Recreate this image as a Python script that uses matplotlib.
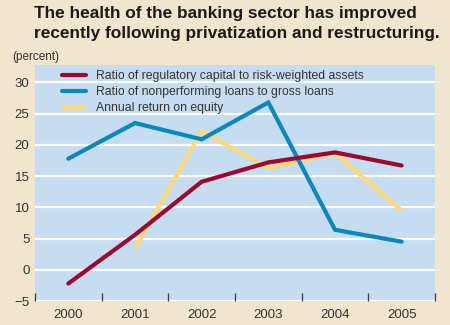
import matplotlib
matplotlib.use("Agg")
import matplotlib.pyplot as plt
import numpy as np

years = ["2000", "2001", "2002", "2003", "2004", "2005"]
capital_ratio = [-2.2, 5.6, 14.1, 17.2, 18.8, 16.7]
npl_ratio = [17.8, 23.5, 20.9, 26.8, 6.4, 4.5]
roe_years = ["2001", "2002", "2003", "2004", "2005"]
roe = [3.4, 22.2, 16.3, 18.7, 9.5]
yticks = [-5, 0, 5, 10, 15, 20, 25, 30]

labels = [
    "Ratio of regulatory capital to risk-weighted assets",
    "Ratio of nonperforming loans to gross loans",
    "Annual return on equity",
]
colors = ["#9B0A2E", "#0A88BE", "#FFD878"]

bg = "#F0E6CD"
plot_bg = "#C6DDF1"
text_col = "#333333"

plt.rcParams["font.family"] = ["Liberation Sans", "DejaVu Sans"]

fig = plt.figure(figsize=(4.5, 3.25), dpi=100, facecolor=bg)
ax = fig.add_axes([35 / 450, 24 / 325, 400 / 450, 236 / 325])
ax.set_facecolor(plot_bg)

x = np.arange(len(years))
xr = np.array([years.index(y) for y in roe_years])

for yv in yticks:
    ax.axhline(yv, color="white", lw=1.6, zorder=1)

ax.plot(x, capital_ratio, color=colors[0], lw=3.0, solid_capstyle="round",
        solid_joinstyle="miter", zorder=4, label=labels[0])
ax.plot(x, npl_ratio, color=colors[1], lw=3.0, solid_capstyle="round",
        solid_joinstyle="miter", zorder=3, label=labels[1])
ax.plot(xr, roe, color=colors[2], lw=3.0, solid_capstyle="butt",
        solid_joinstyle="miter", zorder=2, label=labels[2])

ax.set_xlim(-0.5, 5.5)
ax.set_ylim(-5, 32.8)
ax.set_xticks(x)
ax.set_xticklabels(years)
ax.set_xticks(np.arange(-0.5, 5.6, 1), minor=True)
ax.tick_params(axis="x", which="major", length=0, pad=6, labelsize=9.5, colors=text_col)
ax.tick_params(axis="x", which="minor", length=6, width=1, direction="in", color="#444444")
ax.set_yticks(yticks)
ax.tick_params(axis="y", length=0, pad=4, labelsize=9.5, colors=text_col)

for s in ax.spines.values():
    s.set_visible(False)

leg = ax.legend(loc="upper left", bbox_to_anchor=(0.055, 1.0), frameon=False,
                fontsize=8.8, handlelength=2.0, handletextpad=0.8,
                labelspacing=0.33, borderaxespad=0)
for t in leg.get_texts():
    t.set_color(text_col)

fig.text(34 / 450, 1 - 6 / 325,
         "The health of the banking sector has improved\nrecently following privatization and restructuring.",
         ha="left", va="top", fontsize=12.4, fontweight="bold",
         color="#1a1a1a", linespacing=1.4)
fig.text(12 / 450, 1 - 57 / 325, "(percent)", ha="left", va="center",
         fontsize=8.5, color=text_col)

fig.savefig("out.png", dpi=100, facecolor=bg)
